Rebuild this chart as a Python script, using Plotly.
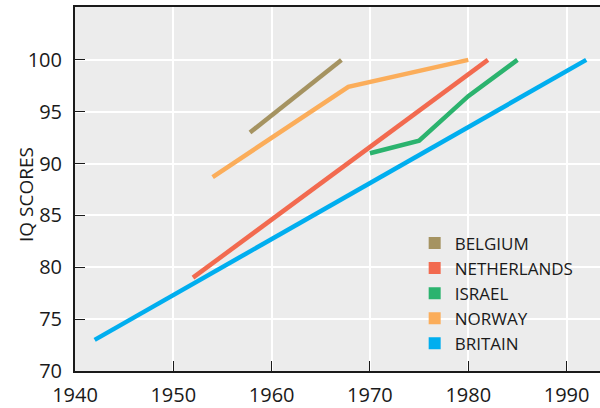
import plotly.graph_objects as go

countries = ["BELGIUM", "NETHERLANDS", "ISRAEL", "NORWAY", "BRITAIN"]
colors = ["#a59361", "#f26a4f", "#2bb36e", "#fbad5a", "#00aeef"]

belgium_years = [1957.8, 1967.1]
belgium_iq = [93.0, 100.0]
netherlands_years = [1952, 1982]
netherlands_iq = [79.0, 100.0]
israel_years = [1970, 1975, 1980, 1985]
israel_iq = [91.0, 92.2, 96.5, 100.0]
norway_years = [1954, 1967.8, 1980]
norway_iq = [88.7, 97.4, 100.0]
britain_years = [1942, 1992]
britain_iq = [73.0, 100.0]

x_ticks = [1940, 1950, 1960, 1970, 1980, 1990]
y_ticks = [70, 75, 80, 85, 90, 95, 100]

series = [
    (belgium_years, belgium_iq),
    (netherlands_years, netherlands_iq),
    (israel_years, israel_iq),
    (norway_years, norway_iq),
    (britain_years, britain_iq),
]

fig = go.Figure()
for i in [4, 3, 1, 2, 0]:
    xs, ys = series[i]
    fig.add_trace(go.Scatter(x=xs, y=ys, mode="lines",
                             line=dict(color=colors[i], width=4.5),
                             showlegend=False, hoverinfo="skip"))
for i, name in enumerate(countries):
    fig.add_trace(go.Scatter(x=[None], y=[None], mode="markers", name=name,
                             marker=dict(symbol="square", size=14, color=colors[i])))

font_family = "Open Sans, Noto Sans, sans-serif"
fig.update_layout(
    width=600, height=408,
    margin=dict(l=75, r=0, t=7, b=37),
    paper_bgcolor="white",
    plot_bgcolor="#ececec",
    font=dict(family=font_family, size=19, color="#1a1a1a"),
    legend=dict(x=0.647, y=0.40, xanchor="left", yanchor="top",
                bgcolor="rgba(0,0,0,0)", font=dict(size=17),
                traceorder="normal", itemsizing="constant", tracegroupgap=0),
    xaxis=dict(range=[1940, 1993.4], tickvals=x_ticks, ticks="inside", ticklen=10,
               tickcolor="#1a1a1a", showline=True, linecolor="#1a1a1a", linewidth=2,
               mirror=True, showgrid=True, gridcolor="white", gridwidth=1.5,
               zeroline=False, tickfont=dict(size=20), automargin=False,
               ticklabelstandoff=5),
    yaxis=dict(range=[70, 105.1], tickvals=y_ticks, ticks="inside", ticklen=10,
               tickcolor="#1a1a1a", showline=True, linecolor="#1a1a1a", linewidth=2,
               showgrid=True, gridcolor="white", gridwidth=1.5, zeroline=False,
               tickfont=dict(size=20), automargin=False, ticklabelstandoff=7),
    annotations=[dict(text="IQ SCORES", textangle=-90, xref="paper", yref="paper",
                      x=-(75 - 26) / 525, y=(371 - 195) / 364,
                      xanchor="center", yanchor="middle", showarrow=False,
                      font=dict(size=19))],
)
fig.write_html("out.html", config={"displayModeBar": False},
               post_script="document.body.style.margin='0';document.body.style.overflow='hidden';")
